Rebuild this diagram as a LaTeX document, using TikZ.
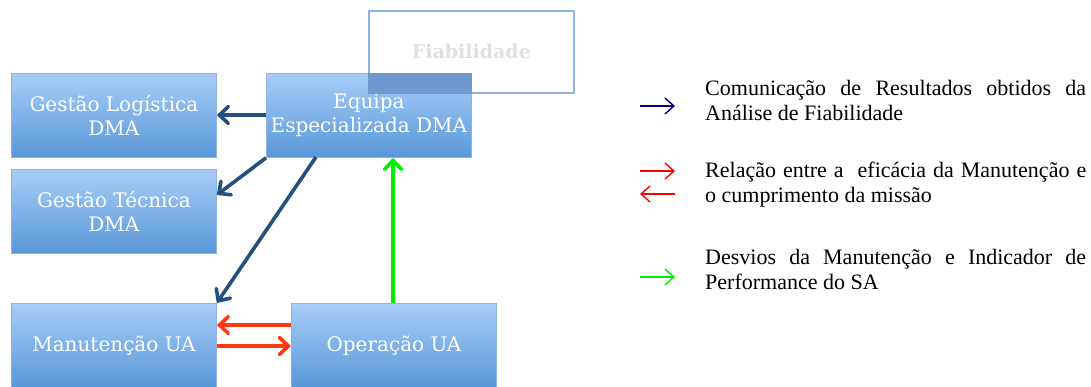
\documentclass[tikz,border=0pt]{standalone}
\usepackage{fontspec}
\setmainfont{Liberation Serif}
\newfontfamily\boxfont{DejaVu Serif}
\usetikzlibrary{arrows.meta}

\definecolor{boxtop}{HTML}{A8CDF8}
\definecolor{boxbot}{HTML}{5898D8}
\definecolor{boxline}{HTML}{8DB3E2}
\definecolor{overlap}{HTML}{7098CE}
\definecolor{linkblue}{HTML}{24507E}
\definecolor{linkred}{HTML}{FF3A12}
\definecolor{linkgreen}{HTML}{00EE00}
\definecolor{legblue}{HTML}{00008E}

\tikzset{
  unit/.style={draw=boxline, line width=0.8pt, top color=boxtop, bottom color=boxbot,
    minimum width=205pt, minimum height=84pt, anchor=north west, align=center,
    text=white, font=\boxfont\fontsize{20}{24}\selectfont, inner sep=0pt},
  link/.style={line width=3.6pt, -{Straight Barb[length=9pt,width=17pt,line cap=round]}},
  legend/.style={line width=1.4pt, -{Straight Barb[length=9pt,width=16pt]}},
  legtext/.style={anchor=west, text width=381pt, align=justify,
    font={\fontsize{22}{25}\selectfont\hyphenpenalty=10000\relax}, inner sep=0pt}
}

\begin{document}
\begin{tikzpicture}[x=1pt,y=-1pt]
  \useasboundingbox (0,0) rectangle (1091,386);

  % caixas
  \node[draw=boxline, line width=1.8pt, fill=white, minimum width=205pt, minimum height=82pt,
        anchor=north west, text=black!12, font=\boxfont\fontsize{19}{22}\selectfont\bfseries]
        (fiab) at (368,10) {Fiabilidade};
  \node[unit] (equipa) at (266,73) {Equipa\\Especializada DMA};
  \fill[overlap] (fiab.south west) rectangle (equipa.north east);
  \node[unit] (logistica) at (11,73) {Gestão Logística\\DMA};
  \node[unit] (tecnica) at (11,169) {Gestão Técnica\\DMA};
  \node[unit] (manut) at (11,303) {Manutenção UA};
  \node[unit] (operacao) at (291,303) {Operação UA};

  % ligacoes
  \draw[link, linkblue] (equipa.west |- 0,115) -- (logistica.east |- 0,115);
  \draw[link, linkblue] (equipa.south west) -- (tecnica.east |- 0,195);
  \draw[link, linkblue] (316,157) -- (manut.north east);
  \draw[link, linkred] (operacao.west |- 0,325) -- (manut.east |- 0,325);
  \draw[link, linkred] (manut.east |- 0,346) -- (operacao.west |- 0,346);
  \draw[link, linkgreen] (operacao.north -| 393,0) -- (equipa.south -| 393,0);

  % legenda
  \coordinate (b1) at (640,106);
  \coordinate (b2) at (675,106);
  \draw[legend, legblue] (b1) -- (b2);
  \coordinate (r1) at (640,171);
  \coordinate (r2) at (675,171);
  \draw[legend, red] (r1) -- (r2);
  \coordinate (r3) at (675,194);
  \coordinate (r4) at (640,194);
  \draw[legend, red] (r3) -- (r4);
  \coordinate (g1) at (640,277);
  \coordinate (g2) at (675,277);
  \draw[legend, linkgreen] (g1) -- (g2);

  \node[legtext] (t1) at (705,100) {Comunicação de Resultados obtidos da Análise de Fiabilidade};
  \node[legtext] (t2) at (705,185) {Relação entre a\ \ eficácia da Manutenção e\linebreak o cumprimento da missão};
  \node[legtext] (t3) at (705,269) {Desvios da Manutenção e Indicador de Performance do SA};
\end{tikzpicture}
\end{document}
